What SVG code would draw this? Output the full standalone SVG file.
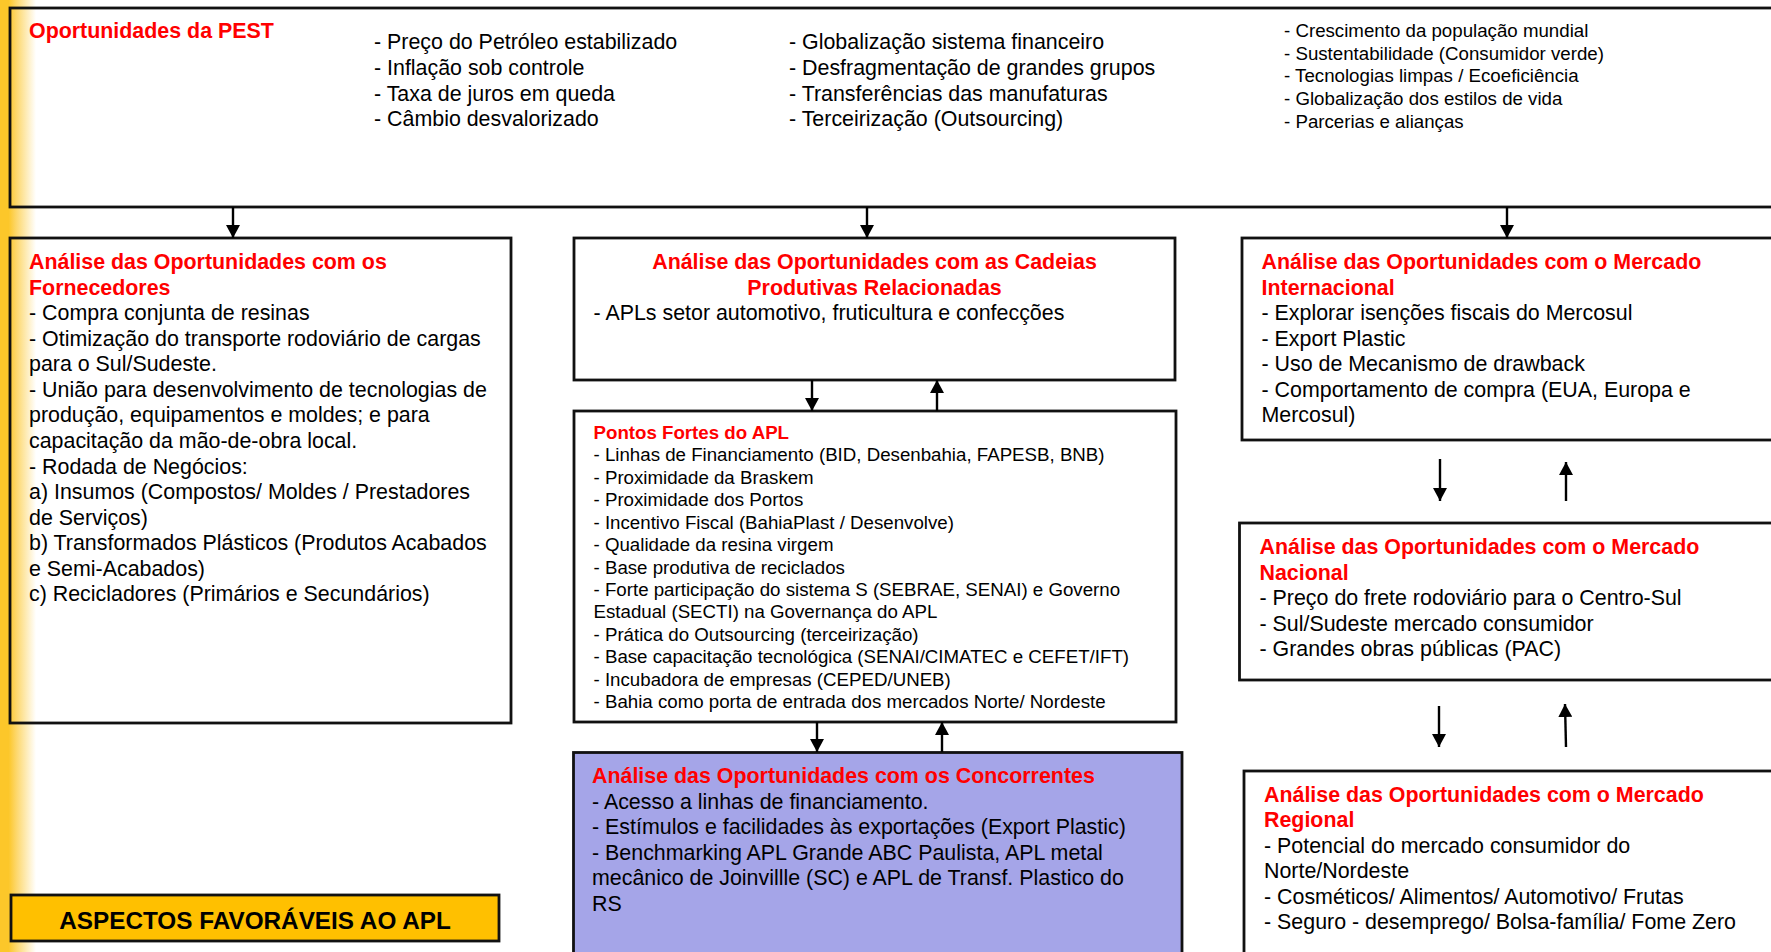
<svg xmlns="http://www.w3.org/2000/svg" width="1771" height="952" viewBox="0 0 1771 952">
<defs>
<linearGradient id="bg" x1="0" y1="0" x2="36" y2="0" gradientUnits="userSpaceOnUse">
<stop offset="0" stop-color="#FCC72A"/>
<stop offset="0.24" stop-color="#FCC72A"/>
<stop offset="0.45" stop-color="#FDD76A"/>
<stop offset="1" stop-color="#FFFFFF"/>
</linearGradient>
<marker id="ah" markerUnits="userSpaceOnUse" markerWidth="14" markerHeight="14" viewBox="0 0 14 14" refX="13" refY="7" orient="auto">
<path d="M0,0 L13,7 L0,14 Z" fill="#000"/>
</marker>
<style>
.box{fill:none;stroke:#111;stroke-width:2.8}
.t{font-family:"Liberation Sans",Arial,sans-serif;font-size:21.4px;fill:#000}
.s{font-size:18.7px}
.h{font-weight:bold;fill:#FF0000}
.c{stroke:#000;stroke-width:2.4;fill:none;marker-end:url(#ah)}
</style>
</defs>
<rect x="0" y="0" width="1771" height="952" fill="url(#bg)"/>

<g id="pest">
<rect class="box" x="10" y="8" width="1800" height="199"/>
<text class="t h" x="29" y="38">Oportunidades da PEST</text>
<text class="t" x="374" y="49">- Preço do Petróleo estabilizado</text>
<text class="t" x="374" y="75">- Inflação sob controle</text>
<text class="t" x="374" y="100.5">- Taxa de juros em queda</text>
<text class="t" x="374" y="126">- Câmbio desvalorizado</text>
<text class="t" x="789" y="49">- Globalização sistema financeiro</text>
<text class="t" x="789" y="75">- Desfragmentação de grandes grupos</text>
<text class="t" x="789" y="100.5">- Transferências das manufaturas</text>
<text class="t" x="789" y="126">- Terceirização (Outsourcing)</text>
<text class="t s" x="1284" y="37">- Crescimento da população mundial</text>
<text class="t s" x="1284" y="59.7">- Sustentabilidade (Consumidor verde)</text>
<text class="t s" x="1284" y="82.4">- Tecnologias limpas / Ecoeficiência</text>
<text class="t s" x="1284" y="105.1">- Globalização dos estilos de vida</text>
<text class="t s" x="1284" y="127.8">- Parcerias e alianças</text>
</g>

<g id="fornecedores">
<rect class="box" x="10" y="238" width="501" height="485"/>
<text class="t h" x="29" y="269">Análise das Oportunidades com os</text>
<text class="t h" x="29" y="294.5">Fornecedores</text>
<text class="t" x="29" y="320">- Compra conjunta de resinas</text>
<text class="t" x="29" y="345.7">- Otimização do transporte rodoviário de cargas</text>
<text class="t" x="29" y="371.2">para o Sul/Sudeste.</text>
<text class="t" x="29" y="396.8">- União para desenvolvimento de tecnologias de</text>
<text class="t" x="29" y="422.4">produção, equipamentos e moldes; e para</text>
<text class="t" x="29" y="447.9">capacitação da mão-de-obra local.</text>
<text class="t" x="29" y="473.5">- Rodada de Negócios:</text>
<text class="t" x="29" y="499">a) Insumos (Compostos/ Moldes / Prestadores</text>
<text class="t" x="29" y="524.6">de Serviços)</text>
<text class="t" x="29" y="550.2">b) Transformados Plásticos (Produtos Acabados</text>
<text class="t" x="29" y="575.7">e Semi-Acabados)</text>
<text class="t" x="29" y="601.3">c) Recicladores (Primários e Secundários)</text>
</g>

<g id="cadeias">
<rect class="box" x="574" y="238" width="601" height="142"/>
<text class="t h" x="874.5" y="269" text-anchor="middle">Análise das Oportunidades com as Cadeias</text>
<text class="t h" x="874.5" y="294.5" text-anchor="middle">Produtivas Relacionadas</text>
<text class="t" x="593.5" y="320">- APLs setor automotivo, fruticultura e confecções</text>
</g>

<g id="pontos-fortes">
<rect class="box" x="574" y="411" width="602" height="311"/>
<text class="t s h" x="593.5" y="439">Pontos Fortes do APL</text>
<text class="t s" x="593.5" y="461.4">- Linhas de Financiamento (BID, Desenbahia, FAPESB, BNB)</text>
<text class="t s" x="593.5" y="483.9">- Proximidade da Braskem</text>
<text class="t s" x="593.5" y="506.3">- Proximidade dos Portos</text>
<text class="t s" x="593.5" y="528.7">- Incentivo Fiscal (BahiaPlast / Desenvolve)</text>
<text class="t s" x="593.5" y="551.2">- Qualidade da resina virgem</text>
<text class="t s" x="593.5" y="573.6">- Base produtiva de reciclados</text>
<text class="t s" x="593.5" y="596">- Forte participação do sistema S (SEBRAE, SENAI) e Governo</text>
<text class="t s" x="593.5" y="618.4">Estadual (SECTI) na Governança do APL</text>
<text class="t s" x="593.5" y="640.9">- Prática do Outsourcing (terceirização)</text>
<text class="t s" x="593.5" y="663.3">- Base capacitação tecnológica (SENAI/CIMATEC e CEFET/IFT)</text>
<text class="t s" x="593.5" y="685.7">- Incubadora de empresas (CEPED/UNEB)</text>
<text class="t s" x="593.5" y="708.2">- Bahia como porta de entrada dos mercados Norte/ Nordeste</text>
</g>

<g id="concorrentes">
<rect class="box" x="573.5" y="752.5" width="608.5" height="260" style="fill:#A5A5E8"/>
<text class="t h" x="592" y="783">Análise das Oportunidades com os Concorrentes</text>
<text class="t" x="592" y="808.5">- Acesso a linhas de financiamento.</text>
<text class="t" x="592" y="834">- Estímulos e facilidades às exportações (Export Plastic)</text>
<text class="t" x="592" y="859.5">- Benchmarking APL Grande ABC Paulista, APL metal</text>
<text class="t" x="592" y="885">mecânico de Joinvillle (SC) e APL de Transf. Plastico do</text>
<text class="t" x="592" y="910.5">RS</text>
</g>

<g id="internacional">
<rect class="box" x="1242" y="238" width="600" height="202"/>
<text class="t h" x="1261.5" y="269">Análise das Oportunidades com o Mercado</text>
<text class="t h" x="1261.5" y="294.5">Internacional</text>
<text class="t" x="1261.5" y="320">- Explorar isenções fiscais do Mercosul</text>
<text class="t" x="1261.5" y="345.6">- Export Plastic</text>
<text class="t" x="1261.5" y="371.2">- Uso de Mecanismo de drawback</text>
<text class="t" x="1261.5" y="396.8">- Comportamento de compra (EUA, Europa e</text>
<text class="t" x="1261.5" y="422.4">Mercosul)</text>
</g>

<g id="nacional">
<rect class="box" x="1239.5" y="523" width="600" height="157"/>
<text class="t h" x="1259.5" y="554">Análise das Oportunidades com o Mercado</text>
<text class="t h" x="1259.5" y="579.6">Nacional</text>
<text class="t" x="1259.5" y="605.2">- Preço do frete rodoviário para o Centro-Sul</text>
<text class="t" x="1259.5" y="630.8">- Sul/Sudeste mercado consumidor</text>
<text class="t" x="1259.5" y="656.4">- Grandes obras públicas (PAC)</text>
</g>

<g id="regional">
<rect class="box" x="1244" y="771" width="600" height="250"/>
<text class="t h" x="1264" y="801.5">Análise das Oportunidades com o Mercado</text>
<text class="t h" x="1264" y="827">Regional</text>
<text class="t" x="1264" y="852.5">- Potencial do mercado consumidor do</text>
<text class="t" x="1264" y="878">Norte/Nordeste</text>
<text class="t" x="1264" y="903.5">- Cosméticos/ Alimentos/ Automotivo/ Frutas</text>
<text class="t" x="1264" y="929">- Seguro - desemprego/ Bolsa-família/ Fome Zero</text>
</g>

<g id="aspectos">
<rect x="11" y="895" width="488" height="46" fill="#FFC000" stroke="#111" stroke-width="2.8"/>
<text class="t" x="255" y="929" text-anchor="middle" style="font-size:24.3px;font-weight:bold">ASPECTOS FAVORÁVEIS AO APL</text>
</g>

<g id="connectors">
<line class="c" x1="233" y1="207" x2="233" y2="238"/>
<line class="c" x1="867" y1="207" x2="867" y2="238"/>
<line class="c" x1="1507" y1="207" x2="1507" y2="238"/>
<line class="c" x1="812" y1="380" x2="812" y2="411"/>
<line class="c" x1="937" y1="411" x2="937" y2="380"/>
<line class="c" x1="817" y1="722" x2="817" y2="752"/>
<line class="c" x1="942" y1="752" x2="942" y2="722"/>
<line class="c" x1="1440" y1="459" x2="1440" y2="501"/>
<line class="c" x1="1566" y1="501" x2="1566" y2="462"/>
<line class="c" x1="1439" y1="706" x2="1439" y2="747"/>
<line class="c" x1="1566" y1="747" x2="1565" y2="704"/>
</g>
</svg>
